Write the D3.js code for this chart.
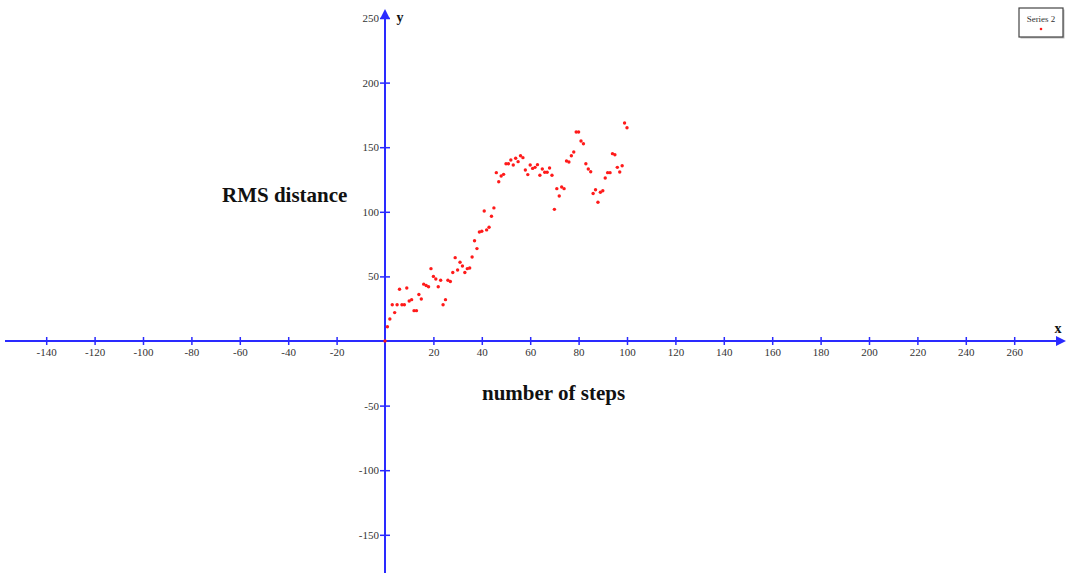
<!DOCTYPE html>
<html>
<head>
<meta charset="utf-8">
<script src="https://cdn.jsdelivr.net/npm/d3@7"></script>
<style>
  html, body { margin: 0; padding: 0; background: #fff; }
  svg { display: block; }
</style>
</head>
<body>
<svg id="chart" width="1067" height="573"></svg>
<script>
// Number of steps (0..100) and the measured RMS distance for each
const steps = d3.range(0, 101);
const rmsDistance = [
  0, 11, 17, 28, 22, 28, 40, 28, 28, 41,
  31, 32, 23.5, 23.5, 36, 32.5, 44, 43, 42, 56,
  50, 48, 42, 47, 28, 32, 47, 46, 53, 64.5,
  55, 61, 58, 53, 56, 56.5, 65, 77.6, 71.5, 84.4,
  85, 100.6, 86, 88, 96.5, 103, 130.3, 123.3, 127.7, 129,
  137.2, 137.2, 140.1, 136.2, 141.4, 138.8, 143.4, 141.9, 132.4, 128.8,
  136.2, 133.6, 134.4, 136.5, 128.3, 133.1, 130.6, 130.6, 133.9, 128.3,
  101.9, 117.9, 112.2, 119.2, 117.9, 139.3, 138.5, 143.4, 146.3, 161.8,
  161.8, 154.8, 152.7, 137.2, 133.1, 131, 114.2, 117.1, 107.4, 115.1,
  116.3, 126.2, 130.3, 130.3, 145, 144.2, 134.4, 130.8, 135.7, 168.7,
  165.1
];
const xTicks = [-140, -120, -100, -80, -60, -40, -20, 20, 40, 60, 80, 100, 120, 140, 160, 180, 200, 220, 240, 260];
const yTicks = [-150, -100, -50, 50, 100, 150, 200, 250];
const seriesName = "Series 2";
const xTitle = "number of steps";
const yTitle = "RMS distance";

const svg = d3.select("#chart");
const W = 1067, H = 573;
const axisColor = "#2a2aff";
const serif = "'Liberation Serif', 'Times New Roman', serif";

const x = d3.scaleLinear().domain([0, 100]).range([385, 627]);
const y = d3.scaleLinear().domain([0, 250]).range([341, 18]);

// Horizontal axis through y = 0
const gx = svg.append("g")
  .attr("transform", `translate(0,${y(0)})`)
  .call(d3.axisBottom(x).tickValues(xTicks).tickSizeInner(4).tickSizeOuter(0)
    .tickPadding(3).tickFormat(d => String(d)));
gx.select(".domain").remove();
gx.selectAll(".tick line").attr("y1", -4).attr("y2", 4)
  .attr("stroke", axisColor).attr("stroke-width", 1.5);
gx.selectAll(".tick text").attr("fill", "#333").attr("font-family", serif).attr("font-size", 11);

// Vertical axis through x = 0
const gy = svg.append("g")
  .attr("transform", `translate(${x(0)},0)`)
  .call(d3.axisLeft(y).tickValues(yTicks).tickSizeInner(4).tickSizeOuter(0)
    .tickPadding(2).tickFormat(d => String(d)));
gy.select(".domain").remove();
gy.selectAll(".tick line").attr("x1", -5).attr("x2", 5)
  .attr("stroke", axisColor).attr("stroke-width", 1.5);
gy.selectAll(".tick text").attr("fill", "#333").attr("font-family", serif).attr("font-size", 11);

// Axis lines with arrow heads
svg.append("line")
  .attr("x1", 5).attr("x2", W - 6)
  .attr("y1", y(0)).attr("y2", y(0))
  .attr("stroke", axisColor).attr("stroke-width", 2);
svg.append("path")
  .attr("d", `M${W - 1},${y(0)} L${W - 11},${y(0) - 5} L${W - 11},${y(0) + 5} Z`)
  .attr("fill", axisColor);
svg.append("line")
  .attr("x1", x(0)).attr("x2", x(0))
  .attr("y1", 16).attr("y2", H)
  .attr("stroke", axisColor).attr("stroke-width", 2);
svg.append("path")
  .attr("d", `M${x(0)},9 L${x(0) - 5},19 L${x(0) + 5},19 Z`)
  .attr("fill", axisColor);

// Axis letters
svg.append("text").attr("x", 1058).attr("y", 333).attr("text-anchor", "middle")
  .attr("font-family", serif).attr("font-weight", "bold").attr("font-size", 14)
  .attr("fill", "#111").text("x");
svg.append("text").attr("x", 400).attr("y", 22).attr("text-anchor", "middle")
  .attr("font-family", serif).attr("font-weight", "bold").attr("font-size", 14)
  .attr("fill", "#111").text("y");

// Titles
svg.append("text").attr("x", 222).attr("y", 202)
  .attr("font-family", serif).attr("font-weight", "bold").attr("font-size", 21)
  .attr("fill", "#111").text(yTitle);
svg.append("text").attr("x", 482).attr("y", 400)
  .attr("font-family", serif).attr("font-weight", "bold").attr("font-size", 21)
  .attr("fill", "#111").text(xTitle);

// Data points
svg.append("g").selectAll("circle")
  .data(steps.map((s, i) => ({ s, v: rmsDistance[i] })))
  .join("circle")
  .attr("cx", d => x(d.s))
  .attr("cy", d => y(d.v))
  .attr("r", 1.7)
  .attr("fill", "#ff1a1a");

// Legend
const lg = svg.append("g").attr("transform", "translate(1019,8)");
lg.append("rect").attr("x", 1.5).attr("y", 1.5).attr("width", 44).attr("height", 29)
  .attr("fill", "#bbb");
lg.append("rect").attr("x", 0).attr("y", 0).attr("width", 44).attr("height", 29)
  .attr("fill", "#fff").attr("stroke", "#444").attr("stroke-width", 1.2);
lg.append("text").attr("x", 22).attr("y", 14).attr("text-anchor", "middle")
  .attr("font-family", serif).attr("font-size", 9).attr("fill", "#333").text(seriesName);
lg.append("circle").attr("cx", 22).attr("cy", 21).attr("r", 1.3).attr("fill", "#ff1a1a");
</script>
</body>
</html>
